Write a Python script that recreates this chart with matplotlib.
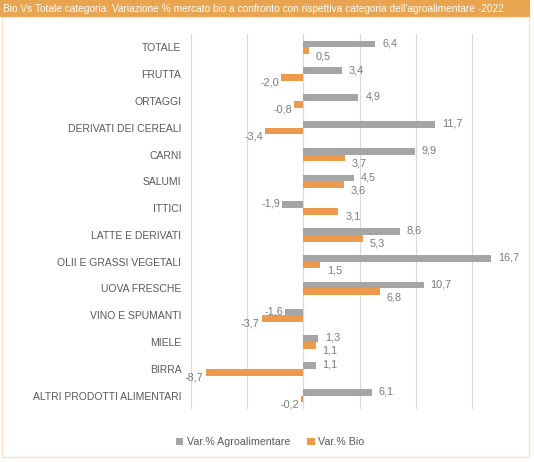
import matplotlib
matplotlib.use("Agg")
import matplotlib.pyplot as plt
import numpy as np
from matplotlib.patches import Rectangle

plt.rcParams['font.family'] = ['Liberation Sans', 'DejaVu Sans']

# data
categorie = ['TOTALE', 'FRUTTA', 'ORTAGGI', 'DERIVATI DEI CEREALI', 'CARNI',
             'SALUMI', 'ITTICI', 'LATTE E DERIVATI', 'OLII E GRASSI VEGETALI',
             'UOVA FRESCHE', 'VINO E SPUMANTI', 'MIELE', 'BIRRA',
             'ALTRI PRODOTTI ALIMENTARI']
var_agro = [6.4, 3.4, 4.9, 11.7, 9.9, 4.5, -1.9, 8.6, 16.7, 10.7, -1.6, 1.3, 1.1, 6.1]
var_bio = [0.5, -2.0, -0.8, -3.4, 3.7, 3.6, 3.1, 5.3, 1.5, 6.8, -3.7, 1.1, -8.7, -0.2]
serie = ['Var.% Agroalimentare', 'Var.% Bio']
titolo = ("Bio Vs Totale categoria: Variazione % mercato bio a confronto con "
          "rispettiva categoria dell'agroalimentare -2022")

grigio = '#A5A5A5'
arancio = '#EE9A4D'
testo = '#595959'
etichette = '#7A7A7A'

fig = plt.figure(figsize=(5.34, 4.62), dpi=100)

# title bar and light frame
fig.patches.append(Rectangle((0, 1 - 17 / 462), 530 / 534, 17 / 462,
                             transform=fig.transFigure, facecolor='#E8A44E',
                             edgecolor='none', zorder=0))
fig.patches.append(Rectangle((2 / 534, 1 - 457 / 462), 527 / 534, 440 / 462,
                             transform=fig.transFigure, facecolor='none',
                             edgecolor='#FBE3C4', linewidth=1, zorder=0))
fig.text(3 / 534, 1 - 8.5 / 462, titolo, color='white', fontsize=7.25,
         va='center', ha='left')

ax = fig.add_axes([191 / 534, 1 - 409 / 462, 337 / 534, 375 / 462])

y = np.arange(len(categorie))
h = 0.25
ax.barh(y - h / 2, var_agro, height=h, color=grigio, label=serie[0], zorder=2)
ax.barh(y + h / 2, var_bio, height=h, color=arancio, label=serie[1], zorder=2)

def fmt(v):
    return ('%.1f' % v).replace('.', ',')

for i in range(len(categorie)):
    for v, off in ((var_agro[i], -h / 2 - 0.03), (var_bio[i], h / 2 + 0.2)):
        if v >= 0:
            ax.annotate(fmt(v), (v, y[i] + off), xytext=(5, 0),
                        textcoords='offset points', ha='left', va='center',
                        fontsize=7.8, color=etichette)
        else:
            ax.annotate(fmt(v), (v, y[i] + off), xytext=(-1.5, 0),
                        textcoords='offset points', ha='right', va='center',
                        fontsize=7.8, color=etichette)

ax.set_xlim(-10, 20)
ax.set_ylim(len(categorie) - 0.5, -0.5)
ax.set_xticks([-10, -5, 0, 5, 10, 15])
ax.set_xticklabels([])
ax.tick_params(axis='x', length=0)
ax.set_yticks(y)
ax.set_yticklabels(categorie, fontsize=7.5, color=testo)
ax.tick_params(axis='y', length=0, pad=7)
ax.grid(axis='x', color='#D9D9D9', linewidth=0.8, zorder=0)
ax.axvline(0, color='#D0D0D0', linewidth=0.8, zorder=1)
for s in ax.spines.values():
    s.set_visible(False)

fig.legend(loc='center', bbox_to_anchor=(270 / 534, 1 - 442 / 462), ncol=2,
           frameon=False, fontsize=7.7, labelcolor=testo, handlelength=0.7,
           handleheight=0.7, handletextpad=0.3, columnspacing=1.6)

fig.savefig('out.png', dpi=100)
